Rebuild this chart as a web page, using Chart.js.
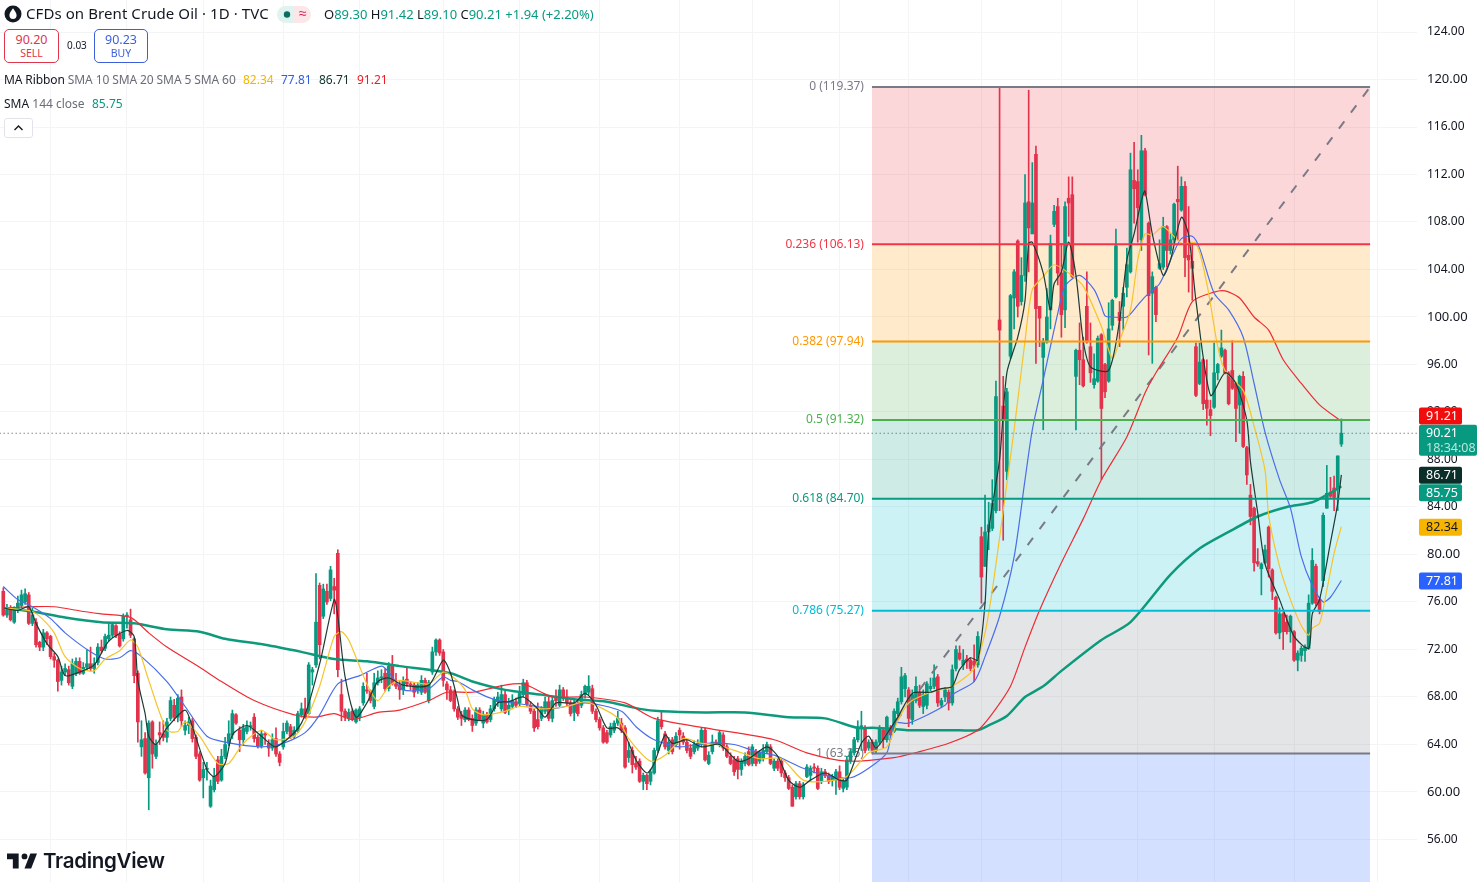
<!DOCTYPE html>
<html>
<head>
<meta charset="utf-8">
<title>CFDs on Brent Crude Oil</title>
<script src="https://cdn.jsdelivr.net/npm/chart.js@4"></script>
<style>
  html, body { margin: 0; padding: 0; background: #fff; width: 1477px; height: 888px; overflow: hidden; }
  body { font-family: "Noto Sans", sans-serif; color: #131722; position: relative; }
  canvas { position: absolute; left: 0; top: 0; }
  .abs { position: absolute; white-space: nowrap; }
  .up { color: #089981; }
  .muted { color: #6a6d78; }
  .box { border: 1px solid; border-radius: 5px; text-align: center; box-sizing: border-box; background: #fff; height: 34px; top: 29px; }
  .box b { display: block; font-weight: 400; font-size: 12.5px; line-height: 15px; margin-top: 2px; }
  .box i { display: block; font-style: normal; font-size: 10.5px; line-height: 13px; }
</style>
</head>
<body>
<canvas id="chart" width="1477" height="888"></canvas>

<svg class="abs" style="left:4px;top:5px" width="18" height="18" viewBox="0 0 18 18">
  <circle cx="9" cy="9" r="8.5" fill="#131722"/>
  <path d="M9 3.2C7 6 5.4 8 5.4 10.3a3.6 3.6 0 0 0 7.2 0C12.6 8 11 6 9 3.2Z" fill="#fff"/>
</svg>
<div class="abs" style="left:26px;top:4px;font-size:15px;line-height:19px;letter-spacing:.08px">CFDs on Brent Crude Oil · 1D · TVC</div>
<div class="abs" style="left:277px;top:6px;width:34px;height:17px;border-radius:9px;background:linear-gradient(90deg,#dff3ef 50%,#fbe6ea 50%)"></div>
<svg class="abs" style="left:277px;top:6px" width="34" height="17" viewBox="0 0 34 17">
  <circle cx="10" cy="8.5" r="3.2" fill="#0b6e5f"/>
</svg>
<div class="abs" style="left:299px;top:3px;font-size:14px;line-height:19px;color:#d81b50">≈</div>
<div class="abs" style="left:324px;top:5px;font-size:13px;line-height:18px">O<span class="up">89.30</span> H<span class="up">91.42</span> L<span class="up">89.10</span> C<span class="up">90.21</span> <span class="up">+1.94 (+2.20%)</span></div>

<div class="abs box" style="left:4px;width:55px;color:#e0364c;border-color:#e0364c"><b>90.20</b><i>SELL</i></div>
<div class="abs" style="left:67px;top:39px;font-size:10px;line-height:13px">0.03</div>
<div class="abs box" style="left:94px;width:54px;color:#3d5fdc;border-color:#3d5fdc"><b>90.23</b><i>BUY</i></div>

<div class="abs" style="left:4px;top:71px;font-size:12px;line-height:17px;letter-spacing:-.1px">MA Ribbon <span class="muted">SMA 10 SMA 20 SMA 5 SMA 60</span></div>
<div class="abs" style="left:243px;top:71px;font-size:12px;line-height:17px;color:#f5b400">82.34</div>
<div class="abs" style="left:281px;top:71px;font-size:12px;line-height:17px;color:#2f5fe0">77.81</div>
<div class="abs" style="left:319px;top:71px;font-size:12px;line-height:17px;color:#10332c">86.71</div>
<div class="abs" style="left:357px;top:71px;font-size:12px;line-height:17px;color:#ee1c25">91.21</div>
<div class="abs" style="left:4px;top:95px;font-size:12px;line-height:17px">SMA <span class="muted">144 close</span></div>
<div class="abs up" style="left:92px;top:95px;font-size:12px;line-height:17px">85.75</div>
<div class="abs" style="left:4px;top:118px;width:29px;height:20px;box-sizing:border-box;border:1px solid #e0e3eb;border-radius:3px;background:#fff"></div>
<svg class="abs" style="left:13px;top:124px" width="11" height="8" viewBox="0 0 11 8"><path d="M1.5 6 5.5 2l4 4" fill="none" stroke="#131722" stroke-width="1.4"/></svg>

<svg class="abs" style="left:7px;top:851px" width="30" height="20" viewBox="0 0 36 24">
  <path d="M14 3H0v7h7v11h7V3Zm15 18h-8l7-18h8l-7 18Zm-8-11a3.5 3.5 0 1 0 0-7 3.5 3.5 0 0 0 0 7Z" fill="#131722"/>
</svg>
<div class="abs" style="left:43px;top:847px;font-family:Inter,sans-serif;font-weight:600;font-size:20.5px;line-height:28px;letter-spacing:-.3px">TradingView</div>

<script>
// === daily candles ===
const opens = [
  76.9,74.9,75.5,74.3,75.3,75.7,76,76.6,74.2,74.3,
  72.6,72.2,73.4,73.1,71.4,71.1,69.4,70.1,70.3,68.9,
  70,71,70,70.5,70.8,70.4,70.9,72.2,72.1,72.9,
  73.2,74,73.3,72.9,74.8,74.5,72.9,70,63.8,64.5,
  61.2,65.9,63,65,64.9,64.6,66.2,67.3,66.3,68,
  65.2,65.6,66,64.6,63.2,61.2,61.9,58.8,60.2,62.7,
  61,63,64.1,64.8,66.5,65.2,64.4,65.1,65.5,66.3,
  64.6,63.9,64.9,64.1,63.7,64.5,63.2,63.8,65.1,65.5,
  64.7,65.1,66.5,67,66.6,70.1,70.7,77.4,74.8,76.9,
  76.3,77.3,80.1,68.2,66.8,66.2,66.8,65.9,66.3,67.5,
  68.6,68.5,67.2,69.2,69.6,70,68.7,70.7,69.1,69,
  68.6,69.5,69.1,69,68.6,68.4,69.4,67.7,70.1,71.8,
  72.8,71.8,69.1,68.6,68.4,67,66.5,66.1,66.9,66.2,
  65.8,66.9,65.8,66.5,66.1,67,67.6,67,68.2,66.9,
  67.2,67.6,67.5,68.2,69.2,67.3,66.8,66.1,66.2,66.8,
  67.6,66.2,67.9,67.3,68.6,68,67.5,66.7,67.5,67.3,
  68.2,68.4,68.7,66.8,66.1,65.4,65,64.8,65.2,65.8,
  65.8,65.4,62.9,63.5,62.4,62.6,60.9,61.4,60.9,61.6,
  63.5,66,64.9,63.5,64.4,64,65.2,64.7,64.2,63.7,
  63.4,63.7,64,65.2,62.4,63.4,64.2,64,64.8,63.8,
  63,62.7,62.8,61.9,62.4,63.4,62.4,63.4,62.6,62.8,
  63.4,63.8,62,62.6,62.6,61.6,61.2,60.4,59.6,60.7,
  59.6,61.3,61.4,62.1,62,60.9,61.7,61.4,61,61,
  61.7,60.3,60.4,62.6,63.3,64.4,65.5,65.4,63.7,64.2,
  63.5,64.2,65.2,64.4,65.4,65.1,66.6,67.6,68.7,68.6,
  66.1,67.7,68.4,67.2,67.3,68.7,68.9,69.7,67.3,68,
  68.4,67.5,70.4,71.7,70.7,71.2,71.1,71,70.7,81.5,
  79,81.9,82.2,83.7,99.75,92.5,87,96.7,101.6,106.4,
  101.3,103.5,109.7,107,113.7,100.9,96.6,97.9,100.6,107.8,
  109.3,103.7,100.6,110,110.3,95,97.2,96.4,100.9,97.5,
  94.3,94.6,98.5,96,94.6,99.3,101.7,100.4,100.9,102.5,
  103.8,111.5,111.4,106.5,114,107.9,102,102.5,104.1,104.2,
  107.6,105.6,106.5,109.9,109,111,105.2,104.7,97.5,94.4,
  96.4,93,92.2,92.4,95.3,96.7,97.2,95.3,95.5,94.4,
  92.6,95,89,85,83.9,79.4,78.8,79.3,82.3,78.7,
  76.4,73.4,75,74.3,73.5,73.5,71.1,71.5,71.9,72.1,
  75.9,79,76.2,77.8,83.9,85.15,85.6,85.6,89.3
];
const highs = [
  77.2,75.8,75.7,75.6,76.5,77,77.1,76.8,75.5,74.6,
  72.7,73.7,73.5,73.2,71.7,71.2,70.6,70.8,70.6,71.2,
  71.3,71.3,70.9,72,72.2,71.3,72.5,72.8,73.3,74.3,
  74.3,74.1,73.5,75,75.1,75.4,73,70.2,66,65,
  66,66,64.4,65.9,66,66.2,68,67.8,68.2,68.6,
  66,66.3,66.2,64.8,63.4,62.5,62.5,61,62,63,
  63.6,64.6,66,66.9,66.6,65.5,65.7,66,65.9,66.6,
  64.8,65.2,65,64.4,64.9,65.4,63.4,65.8,66,65.7,
  65.5,66.8,67.5,67.9,70.9,70.5,78.4,77.6,77.5,77.5,
  79,78,80.4,69.5,67,67,67,67,67.2,69.2,
  70,68.6,70,70.2,70.3,70.4,70.9,71.5,70,69.3,
  69.7,70.5,69.3,69.2,69.2,69.8,69.6,69.4,72.2,72.9,
  72.9,72,69.3,68.9,68.6,67.2,66.8,67.1,67.1,66.5,
  67.1,67.1,66.8,66.7,67.3,68,68.4,69,68.5,67.9,
  68.2,67.9,68.9,69.5,69.4,67.6,67,67.5,67.2,68,
  68,68,68.6,69,68.8,68.6,67.7,67.8,67.7,68.5,
  69,69.8,69,67,66.3,65.6,65.2,65.8,66,66.8,
  66.2,65.6,64.2,63.8,63,62.8,61.6,61.5,61.9,63.7,
  66.3,66.8,65.1,64.6,64.6,65,65.4,65,64.4,64,
  64.3,64.4,65.4,65.4,63.4,64.8,64.4,65.2,65,64,
  63.3,63,63,62.8,63.3,63.8,64,63.6,63.5,64,
  64.2,64,62.8,62.8,62.8,61.8,61.4,60.6,60.9,60.9,
  60.8,62.3,62.2,62.4,62.2,62,61.9,61.6,61.5,61.9,
  62.2,61.1,63,63.6,64.6,66,66.8,65.6,64.4,64.4,
  64.4,65.6,65.4,66.4,65.6,67,67.9,70.5,70,68.8,
  68.6,69.7,69,68.6,69.3,69.6,70.7,69.9,67.9,68.8,
  68.6,70.7,72.3,72.3,72,71.5,71.3,72.4,73.5,82.3,
  85,84.4,86.3,94.6,119.4,95,94,101.9,104,106.5,
  105,112,119.1,113,114.4,100.9,98.2,102.4,106.9,109.4,
  110,106.2,109.7,111.8,111.8,97.3,99.5,98.3,103.8,99.5,
  96.9,98.4,98.6,96.1,101.2,101.5,107.4,101.3,102.5,105.8,
  113.8,114.7,112.4,115.3,114.2,108,103.8,102.6,106.5,108.4,
  107.7,107,109.6,112.7,111.8,111.4,109.3,106.2,97.8,97.8,
  96.5,96.4,93,97.8,96.1,98.9,97.3,95.4,98,94.5,
  95.1,95.4,89.1,85.9,84,80.5,79.3,80.8,82.4,78.8,
  76.5,75.5,75.1,74.9,74.9,73.6,71.9,72.3,72.4,76.6,
  80.5,79.2,76.4,83.5,87.5,86.5,86.6,88.3,91.42
];
const lows = [
  74.8,74.7,74.4,74.2,75.1,75.5,75.8,74.1,74,72.2,
  71.9,71.9,72.4,71.2,70.5,68.5,69,69.8,69,68.7,
  69.8,69.9,69.9,70.3,70.2,70,70.7,71.7,71.9,72.7,
  73,73,72.2,72.7,73.8,73,69.2,64.2,63,61.5,
  58.5,62,62.8,64,64.3,64.2,66,66,65.9,65.5,
  64.8,64.9,64.2,62.8,60.9,59.5,61,58.7,60,60.7,
  60.9,62.8,63.9,64.5,65.7,63.4,64,64.9,65.2,64.2,
  63.7,63.7,64,63,63.5,63,62.2,63.6,64.9,64.5,
  64.5,65,66.3,66.2,66.5,69,70.5,71.2,74.6,75.8,
  76.1,75,69.7,66,66,66,66,65.8,66,67.3,
  68.3,67.5,67,69,69.2,68.5,68.5,69,68.7,67.8,
  68.2,68.9,68.6,68,68.3,68.2,68.3,67.5,69.9,71.5,
  71.5,68.9,67.8,67.6,66.8,66.1,65.6,65.9,66,65.1,
  65.6,66,65.4,65.8,65.9,66.8,67.2,66.8,66.6,66.5,
  67,67.1,67.2,68,67.2,66.6,65.1,65.3,66,66.6,
  66,65.9,67.2,67.1,67.7,67.3,66.4,66,66.4,67.1,
  67.9,68.2,66.6,65.9,65.2,64.1,64.1,64.6,65,65.6,
  65,62,62.5,61.6,61.9,60.8,60.2,60.2,60.6,61.5,
  63.3,65.3,63.6,63.2,63.2,63.8,63.6,64,63.3,62.8,
  63.2,63.5,63.8,62.6,62.3,63.2,64,63.8,63.5,62.9,
  62.3,61.4,61.1,61.4,62.2,62.2,62.2,62.2,62.4,62.6,
  63.2,62.3,61.8,61.8,61.3,60.9,60.2,58.8,59.4,59.4,
  59.4,61.2,61,61.6,60.2,60.7,61.2,60.7,60.5,59.8,
  60.2,60,60.2,62.4,63.1,64.2,63.5,63.3,63.5,63.2,
  63.3,64,63.7,64.2,64.4,65,66.4,67.4,68,65.5,
  65.7,67.5,67.1,66.6,67,68.5,68.7,67.2,67.1,67.6,
  66.9,67.3,70.2,71.1,70.3,70.4,70.2,69.3,70.5,75.9,
  79,80.4,82,83.5,83.7,81.2,86.3,96.5,99,100,
  101,103,103.8,107,96.1,97.5,90.5,97.8,99,107.6,
  102.7,98.3,99.1,106.8,103.3,90.5,94.3,94.1,97.8,94.5,
  94,94.5,86.3,93.2,94.5,98.9,101.6,97.5,98.9,101.7,
  103.7,107.9,106.3,105.6,110.2,96.8,96.1,99.6,104,104,
  104.2,105.3,106.2,106.5,108.9,103.4,102.1,101.4,93.3,94.3,
  92.2,90.9,90,92.3,94.7,96.6,95.2,92.6,93.9,89.5,
  90.2,89,85.9,82.5,78.6,79,76.6,79.2,78.1,76.2,
  73.3,72.9,72,73.3,72.6,71,70.2,71,71,72,
  75.8,75.7,75,77.3,83.9,84.8,83.7,83.7,89.1
];
const closes = [
  74.9,75.3,74.5,75.3,75.9,76.6,76.7,74.2,74.9,72.4,
  72.2,73.4,72.9,71.4,71.1,69.3,70.1,70.4,69.2,70.8,
  71,70,70.5,70.8,70.4,70.8,72.2,71.9,73.1,73.2,
  74.1,73.2,72.3,74.8,74.9,73.2,69.8,65.9,64.4,61.6,
  65.8,63.2,64,64.8,64.6,65.9,67.7,66.3,67.9,66,
  65.6,65.9,64.5,63,61,61.9,62,60.5,61.3,60.9,
  63,64,64.9,66.6,65.8,64.4,65.4,65.5,65.5,64.5,
  63.9,64.9,64.8,63.7,64.4,63.2,62.5,65.1,65.8,64.7,
  65.2,66.6,67,66.3,70.7,70.3,74.3,72.4,77.1,76,
  78.7,77,70.3,66.8,66.3,66.7,66.1,66.9,67,68.9,
  68.5,67.7,69.2,69.6,69.7,68.7,70.6,69.1,68.9,68.6,
  69.4,69.1,69,68.4,69,69.4,68.4,69.2,71.8,72.8,
  71.7,69.4,68.6,67.7,67,66.3,66.2,66.9,66.1,65.6,
  66.9,66.1,66.5,65.9,67,67.8,68,68.2,66.7,67.3,
  67.7,67.3,68.3,69.2,67.4,66.8,65.4,65.5,67,67.6,
  66.2,67.7,67.7,68.6,67.9,67.5,66.6,67.5,66.6,68.2,
  68.9,68.9,66.8,66.1,65.4,64.2,64.2,65.5,65.8,66.2,
  65.2,62.1,63.5,62.3,62.1,60.9,61.4,60.7,61.7,63.5,
  66,65.5,63.8,64.2,63.4,64.7,64.8,64.2,63.5,63,
  64,64.1,65.2,62.7,63.1,64.2,64.1,65,63.7,63,
  62.4,61.7,61.9,62.6,63,62.3,63.8,62.4,63.3,63.5,
  64,62.4,62.6,62,61.6,61.2,60.3,58.8,60.7,59.6,
  60.6,62.1,62,62,60.3,61.7,61.4,60.9,61.3,61.7,
  60.4,60.9,62.7,63.4,64.4,65.5,65.5,63.5,64.2,63.5,
  64.2,65.4,64.4,66.3,64.8,66.8,67.6,69.7,69.8,66.2,
  68.2,68.9,67.3,68.2,69.1,68.9,69.6,67.5,67.7,68.6,
  67.5,70.3,72,71.2,71.1,71,70.4,70.7,73.1,78.1,
  81.9,82.5,84.3,93.3,98.9,91.3,93.7,101.8,103.8,100.9,
  103.5,109.6,107.5,109.6,100.7,99.9,97.9,100,106.2,108.9,
  103.7,100.2,109.3,109.6,103.4,97.2,96.4,94.2,97.9,95.3,
  94.8,98.2,92.3,93.7,99,101.4,106,99.7,102,104.4,
  112.4,110.8,109.2,114,110.3,101.8,103.4,100.2,104.5,107.6,
  105.6,106.5,109.5,109.7,111,105,104.8,104.1,93.4,96.2,
  92.7,92.3,91.7,95.3,96,97.4,95.3,92.7,94,92.3,
  95,89.1,86.7,83.2,79.3,79.2,79.2,80.4,78.8,76.9,
  73.4,75,73.5,73.5,74.8,71.1,71.7,72.1,72.2,75.9,
  79.5,75.9,75.2,83.3,85.15,84.9,84.8,88.3,90.21
];

// === moving averages, read bar by bar where the line bends ===
const sma5Bars = [0,4,7,9,12,15,17,21,25,29,34,36,37,39,40,42,45,50,52,56,58,61,63,67,71,75,82,87,91,92,94,97,100,103,106,110,117,121,123,125,126,129,133,136,139,143,147,149,152,157,160,163,166,169,171,174,177,179,182,184,188,192,197,202,205,210,213,216,219,222,226,230,232,236,238,240,243,246,250,255,258,261,263,266,268,270,271,274,276,279,281,282,283,286,288,289,291,293,295,297,299,304,307,309,311,313,314,316,319,321,324,326,328,332,336,339,342,343,345,347,351,355,359,360,362,365,367,368];
const sma5Values = [75.5,75.3,75.6,74.2,72.5,71.4,69.8,70.1,70.7,72.7,73.6,73.1,69.4,66.6,64.7,64,65.4,66.9,65.5,61.9,61.3,62.4,64.8,65.6,64.7,63.8,65.8,70.8,76.2,74.8,69.7,66.3,67.5,69.3,69.6,69,69,71.1,70,67.7,66.5,66.1,66.1,67.5,67.6,68,67,66.3,67.5,67.5,68.3,67.3,65.4,65.4,64.8,62.7,61.6,62.4,64.8,64.1,64.4,63.8,64,62.6,62.8,63.8,63,61,60.4,61,61.6,61,61,64.1,64.7,63.7,64.9,66.3,68.3,68.4,68.7,68.9,70.3,71.3,71.1,75.9,82,88,95.3,98.3,101.4,106.2,106.3,103.7,100.6,102.8,103.8,106.3,103.5,98,95.8,95.5,99.7,104.8,107,109.8,110.6,107,103.5,104.8,108.4,106.9,101.4,93.4,95.3,94.4,91.3,87.8,83.5,79.2,76.2,73.1,72.1,75,76.2,81,84.3,86.71];

const sma10Bars = [0,8,11,14,17,21,25,28,32,35,37,40,45,48,50,54,59,62,66,71,75,80,83,87,91,93,95,100,103,106,109,117,121,124,127,129,132,138,142,148,155,160,165,169,172,178,182,187,192,196,203,208,214,220,226,232,238,243,246,249,255,261,267,270,272,275,278,281,283,286,289,293,297,302,305,307,310,312,314,316,319,324,328,331,334,336,341,344,347,348,351,354,357,359,360,362,364,366,368];
const sma10Values = [75.5,75.2,74.5,73.4,71.4,70.4,70.2,71.2,71.9,72.8,72.2,69.4,65.2,65.1,65.9,64.7,62.4,62.4,64.1,65.2,64.4,64.7,65.9,68.9,73.1,73.5,72.8,69.1,67.7,68.9,69.4,69.1,70.1,69.6,68.6,67,66.5,66.8,67.2,67,67.2,67.6,67,66.2,64.5,62.6,63.1,64.5,64.1,64,63.3,62.8,62.8,61,60.9,61.3,63.3,63.8,66,67.5,68.4,68.9,70.4,73.4,77,83.7,90.5,98,102.3,103.4,104.4,103.7,102.6,99.2,96.5,98,100.6,104.8,107,106.9,107.6,106.2,106.2,102.8,97.5,95.5,93.8,90.8,87.1,83.3,79,76.2,74,73.2,73.8,74.2,77,80.1,82.34];

const sma20Bars = [0,4,8,13,17,24,28,32,35,38,45,50,56,61,71,77,83,87,92,98,104,106,110,117,121,123,125,129,134,138,145,151,160,170,174,179,186,193,201,207,212,220,226,233,238,243,245,249,259,261,267,270,274,278,281,283,286,290,292,296,300,302,303,305,309,312,314,318,322,324,327,329,333,337,341,344,347,351,354,357,360,363,365,368];
const sma20Values = [77.3,76.2,75.6,74.6,73.4,71.8,71.2,71.3,71.9,71.4,69.3,67.2,64.7,64.2,63.8,64.1,65,66.5,69.1,69.8,70.6,70.1,68.6,68.7,69.7,69.4,69.3,68.6,67.9,67.6,67.3,67,67.5,66.8,65.5,64.4,63.8,64.1,64,63.4,63.1,62,61.4,61.2,62,63.3,65.8,65.8,67.3,68.2,69.3,71.4,74.8,79.8,86.3,90.5,94.7,100.3,102.6,103.5,102.3,100.9,100.1,100,100,101,101.7,102.8,105.5,106.6,106.8,105.8,102,100.6,98.3,94.4,90.3,86.3,83.9,79.8,77.4,76,76.4,77.81];

const sma60Bars = [0,8,14,22,27,35,40,45,54,60,69,80,86,91,96,103,109,117,122,129,138,143,148,151,160,171,179,193,212,221,232,245,252,260,268,272,277,281,285,291,297,302,309,314,317,323,327,333,336,340,344,348,352,357,362,368];
const sma60Values = [75.5,75.6,75.6,75.2,75,74.7,73.4,72.2,70.5,69.3,67.7,66.5,66.3,66.6,66.1,66.7,66.9,67.7,68.4,68.4,69,69.1,68.4,68,68,67.5,66.2,65.4,64.4,63.3,62.6,62.9,63.4,64.1,65.2,66.6,68.9,72.2,75.3,79.3,83,86.3,89.9,93.6,95.3,98.3,101.3,102.1,102.2,101.6,100,98.9,96.4,94.4,92.6,91.21];

const sma144Bars = [0,8,17,27,36,45,54,61,72,82,91,100,109,123,129,138,148,157,166,175,181,193,204,216,226,235,239,245,249,263,268,271,276,281,286,291,302,310,321,329,337,345,353,360,365,368];
const sma144Values = [75.5,75.2,74.7,74.3,74.2,73.7,73.5,72.9,72.4,71.8,71.2,71,70.6,70,69.3,68.6,68.2,67.8,67.6,67,66.8,66.7,66.7,66.3,66.2,65.4,65.4,65.3,65.2,65.2,65.2,65.6,66.4,68,68.9,70.2,72.8,74.3,78.3,80.5,81.9,83.2,84,84.4,85.2,85.75];

// === Fibonacci retracement ===
const fibLevels = ["0", "0.236", "0.382", "0.5", "0.618", "0.786", "1"];
const fibPrices = [119.37, 106.13, 97.94, 91.32, 84.70, 75.27, 63.25];
const fibColors = ["#787b86", "#f23645", "#ff9800", "#4caf50", "#089981", "#00bcd4", "#787b86"];
const fibFills = ["rgba(242,54,69,.2)", "rgba(255,152,0,.2)", "rgba(76,175,80,.2)", "rgba(8,153,129,.2)", "rgba(0,188,212,.2)", "rgba(120,123,134,.2)", "rgba(41,98,255,.2)"];
const fibStartBar = 238.9;
const fibEndBar = 375.9;

const lastPrice = 90.21;
const priceTicks = [124, 120, 116, 112, 108, 104, 100, 96, 92, 88, 84, 80, 76, 72, 68, 64, 60, 56];
const gridBars = [13, 34, 55, 77, 98, 121, 142, 164, 186, 206, 230, 249, 269, 291, 312, 333, 355, 378];

const UP = "#089981";
const DOWN = "#e3324b";

const candleColors = closes.map((c, i) => (c >= opens[i] ? UP : DOWN));
const wickData = opens.map((_, i) => ({ x: i, y: [lows[i], highs[i]] }));
const bodyData = opens.map((o, i) => ({ x: i, y: [o, closes[i]] }));
const toPoints = (bars, values) => bars.map((b, i) => ({ x: b, y: values[i] }));

// === zone fills sit behind everything, each runs down to the next level ===
const zoneDatasets = fibPrices.map((p, i) => ({
  type: "line",
  order: 30,
  data: [{ x: fibStartBar, y: p }, { x: fibEndBar, y: p }],
  borderWidth: 0,
  pointRadius: 0,
  fill: {
    target: { value: i < fibPrices.length - 1 ? fibPrices[i + 1] : 40 },
    above: fibFills[i],
    below: fibFills[i],
  },
}));

const fibLineDatasets = fibPrices.map((p, i) => ({
  type: "line",
  order: 3,
  data: [{ x: fibStartBar, y: p }, { x: fibEndBar, y: p }],
  borderColor: fibColors[i],
  borderWidth: 2,
  pointRadius: 0,
}));

const maLine = (bars, values, color, width, order) => ({
  type: "line",
  order,
  data: toPoints(bars, values),
  borderColor: color,
  borderWidth: width,
  pointRadius: 0,
  tension: 0.25,
});

// labels left of the retracement box, candles paint over them
const fibLabels = {
  id: "fibLabels",
  beforeDatasetsDraw(chart) {
    const { ctx, scales } = chart;
    ctx.save();
    ctx.font = '12px "Noto Sans", sans-serif';
    ctx.textAlign = "right";
    ctx.textBaseline = "middle";
    fibLevels.forEach((lv, i) => {
      ctx.fillStyle = fibColors[i];
      ctx.fillText(`${lv} (${fibPrices[i].toFixed(2)})`, scales.x.getPixelForValue(fibStartBar) - 8, scales.y.getPixelForValue(fibPrices[i]));
    });
    ctx.restore();
  },
};

// price tags on the right axis, nudge keeps neighbours from overlapping
const tagValues = [86.71, 85.75, 82.34, 77.81, 91.21];
const tagColors = ["#0b2e28", "#089981", "#f7b500", "#2962ff", "#f20d0d"];
const tagText = ["#fff", "#fff", "#131722", "#fff", "#fff"];
const tagNudge = [0, 6, 0, 0, -6];

const priceTags = {
  id: "priceTags",
  afterDraw(chart) {
    const { ctx, scales } = chart;
    const left = 1419;
    ctx.save();
    ctx.textBaseline = "middle";
    ctx.font = '12.5px "Noto Sans", sans-serif';
    tagValues.forEach((v, i) => {
      const y = scales.y.getPixelForValue(v) + tagNudge[i];
      ctx.fillStyle = tagColors[i];
      ctx.beginPath();
      ctx.roundRect(left, y - 8, 43, 17, 2);
      ctx.fill();
      ctx.fillStyle = tagText[i];
      ctx.fillText(v.toFixed(2), left + 7, y + 1);
    });
    const y = scales.y.getPixelForValue(lastPrice);
    ctx.fillStyle = UP;
    ctx.beginPath();
    ctx.roundRect(left, y - 8.5, 58, 31, 2);
    ctx.fill();
    ctx.fillStyle = "#fff";
    ctx.fillText(lastPrice.toFixed(2), left + 7, y + 0.5);
    ctx.fillStyle = "#b9e6dd";
    ctx.fillText("18:34:08", left + 7, y + 15);
    ctx.restore();
  },
};

new Chart(document.getElementById("chart"), {
  type: "bar",
  data: {
    datasets: [
      ...zoneDatasets,
      { order: 12, data: wickData, backgroundColor: candleColors, barThickness: 1, grouped: false },
      { order: 11, data: bodyData, backgroundColor: candleColors, barThickness: 3, grouped: false, minBarLength: 1 },
      {
        type: "line",
        order: 10,
        data: [{ x: fibStartBar, y: fibPrices[6] }, { x: fibEndBar, y: fibPrices[0] }],
        borderColor: "#787b86",
        borderWidth: 2,
        borderDash: [9, 11],
        pointRadius: 0,
      },
      maLine(sma144Bars, sma144Values, "#0d9a7c", 2.5, 9),
      maLine(sma60Bars, sma60Values, "#ee2b33", 1.2, 8),
      maLine(sma20Bars, sma20Values, "#4a6ee8", 1.2, 7),
      maLine(sma10Bars, sma10Values, "#f6c42c", 1.2, 6),
      maLine(sma5Bars, sma5Values, "#1d3a33", 1.2, 5),
      ...fibLineDatasets,
      {
        type: "line",
        order: 2,
        data: [{ x: -1, y: lastPrice }, { x: 389, y: lastPrice }],
        borderColor: "#4a4f57",
        borderWidth: 1,
        borderDash: [1, 3],
        pointRadius: 0,
      },
    ],
  },
  options: {
    responsive: false,
    animation: false,
    layout: { autoPadding: false, padding: { left: 0, top: 0, right: 0, bottom: 6 } },
    plugins: { legend: { display: false }, tooltip: { enabled: false } },
    scales: {
      x: {
        type: "linear",
        offset: false,
        min: -0.9076,
        max: 388.8,
        grid: { color: "#f3f4f6", offset: false, drawTicks: false },
        border: { display: false },
        ticks: { display: false },
        afterBuildTicks: (scale) => { scale.ticks = gridBars.map((v) => ({ value: v })); },
        afterFit: (scale) => { scale.height = 0; },
      },
      y: {
        position: "right",
        min: 52.42,
        max: 126.695,
        grid: { color: "#f3f4f6", drawTicks: false },
        border: { display: false },
        ticks: {
          color: "#131722",
          padding: 10,
          autoSkip: false,
          font: (c) => ({ family: '"Noto Sans", sans-serif', size: c.tick && c.tick.value % 20 === 0 ? 13 : 12 }),
          callback: (v) => v.toFixed(2),
        },
        afterBuildTicks: (scale) => { scale.ticks = priceTicks.map((v) => ({ value: v })); },
        // full bleed plot, tick labels may run to the canvas edge
        afterFit: (scale) => { scale.width = 60; scale.paddingTop = 0; scale.paddingBottom = 0; },
      },
    },
  },
  plugins: [fibLabels, priceTags],
});
</script>
</body>
</html>
